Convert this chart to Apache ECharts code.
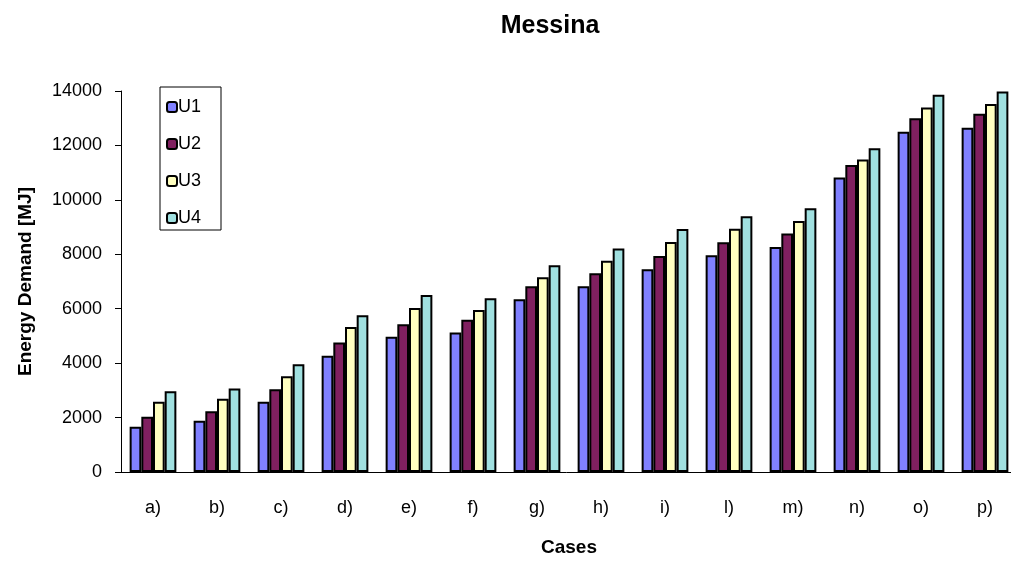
<!DOCTYPE html>
<html>
<head>
<meta charset="utf-8">
<script src="https://cdn.jsdelivr.net/npm/echarts@6/dist/echarts.min.js"></script>
<style>
	html, body { margin: 0; padding: 0; background: #fff; }
	#chart { width: 1011px; height: 561px; }
</style>
</head>
<body>
<div id="chart"></div>
<script>
// categories (cases)
let cases = ['a)', 'b)', 'c)', 'd)', 'e)', 'f)', 'g)', 'h)', 'i)', 'l)', 'm)', 'n)', 'o)', 'p)'];
// series values
let u1 = [1660, 1880, 2580, 4270, 4970, 5130, 6350, 6830, 7450, 7960, 8270, 10820, 12500, 12650];
let u2 = [2030, 2230, 3040, 4760, 5430, 5590, 6830, 7300, 7940, 8440, 8760, 11280, 13000, 13160];
let u3 = [2580, 2690, 3520, 5330, 6030, 5950, 7160, 7760, 8450, 8940, 9220, 11480, 13390, 13520];
let u4 = [2970, 3070, 3960, 5760, 6500, 6380, 7600, 8210, 8930, 9400, 9690, 11900, 13860, 13980];
let seriesNames = ['U1', 'U2', 'U3', 'U4'];
let seriesColors = ['#8080FF', '#802060', '#FFFFC0', '#A0E0E0'];

let font = 'Liberation Sans, Arial, sans-serif';
let myChart = echarts.init(document.getElementById('chart'));

// 시리즈 생성
let seriesData = [u1, u2, u3, u4];
let series = [];
for (let i = 0; i < seriesData.length; i++) {
	series.push({
		name: seriesNames[i],
		type: 'bar',
		data: seriesData[i],
		barGap: '0%',
		barCategoryGap: '27%',
		itemStyle: {
			color: seriesColors[i],
			borderColor: '#000',
			borderWidth: 2
		}
	});
}

let option = {
	animation: false,
	textStyle: { fontFamily: font },
	title: {
		text: 'Messina',
		left: 545,
		top: 9,
		textAlign: 'center',
		textStyle: { fontSize: 25, fontWeight: 'bold', color: '#000', fontFamily: font }
	},
	legend: {
		orient: 'vertical',
		left: 160,
		top: 87,
		padding: [11, 20, 3, 6],
		itemGap: 19,
		itemWidth: 10,
		itemHeight: 10,
		borderColor: '#000',
		borderWidth: 1,
		textStyle: { fontSize: 18, color: '#000', fontFamily: font, padding: [0, 0, 0, -4] },
		data: seriesNames,
		itemStyle: { borderColor: '#000', borderWidth: 2 }
	},
	grid: {
		left: 121,
		width: 896,
		top: 91,
		height: 381,
		containLabel: false,
		outerBoundsMode: 'none'
	},
	xAxis: [
		{
			type: 'category',
			data: cases,
			name: 'Cases',
			nameLocation: 'middle',
			nameGap: 66,
			nameTextStyle: { fontSize: 19, fontWeight: 'bold', color: '#000', fontFamily: font },
			axisLine: { lineStyle: { color: '#000', width: 1 } },
			axisTick: { length: 6, lineStyle: { color: '#000' } },
			axisLabel: { fontSize: 18, color: '#000', margin: 27, fontFamily: font }
		},
		{
			// 눈금이 축선을 가로지르도록 안쪽 눈금만 그리는 보조 축
			type: 'category',
			data: cases,
			position: 'bottom',
			axisLine: { show: false },
			axisTick: { inside: true, length: 6, lineStyle: { color: '#000' } },
			axisLabel: { show: false }
		}
	],
	yAxis: {
		type: 'value',
		min: 0,
		max: 14000,
		interval: 2000,
		name: 'Energy Demand [MJ]',
		nameLocation: 'middle',
		nameRotate: 90,
		nameGap: 86,
		nameTextStyle: { fontSize: 19, fontWeight: 'bold', color: '#000', fontFamily: font },
		splitLine: { show: false },
		axisLine: { show: true, lineStyle: { color: '#000', width: 1 } },
		axisTick: { show: true, length: 6, lineStyle: { color: '#000' } },
		axisLabel: {
			fontSize: 18,
			color: '#000',
			margin: 19,
			fontFamily: font,
			formatter: function (v) { return String(v); }
		}
	},
	series: series
};
myChart.setOption(option);
</script>
</body>
</html>
